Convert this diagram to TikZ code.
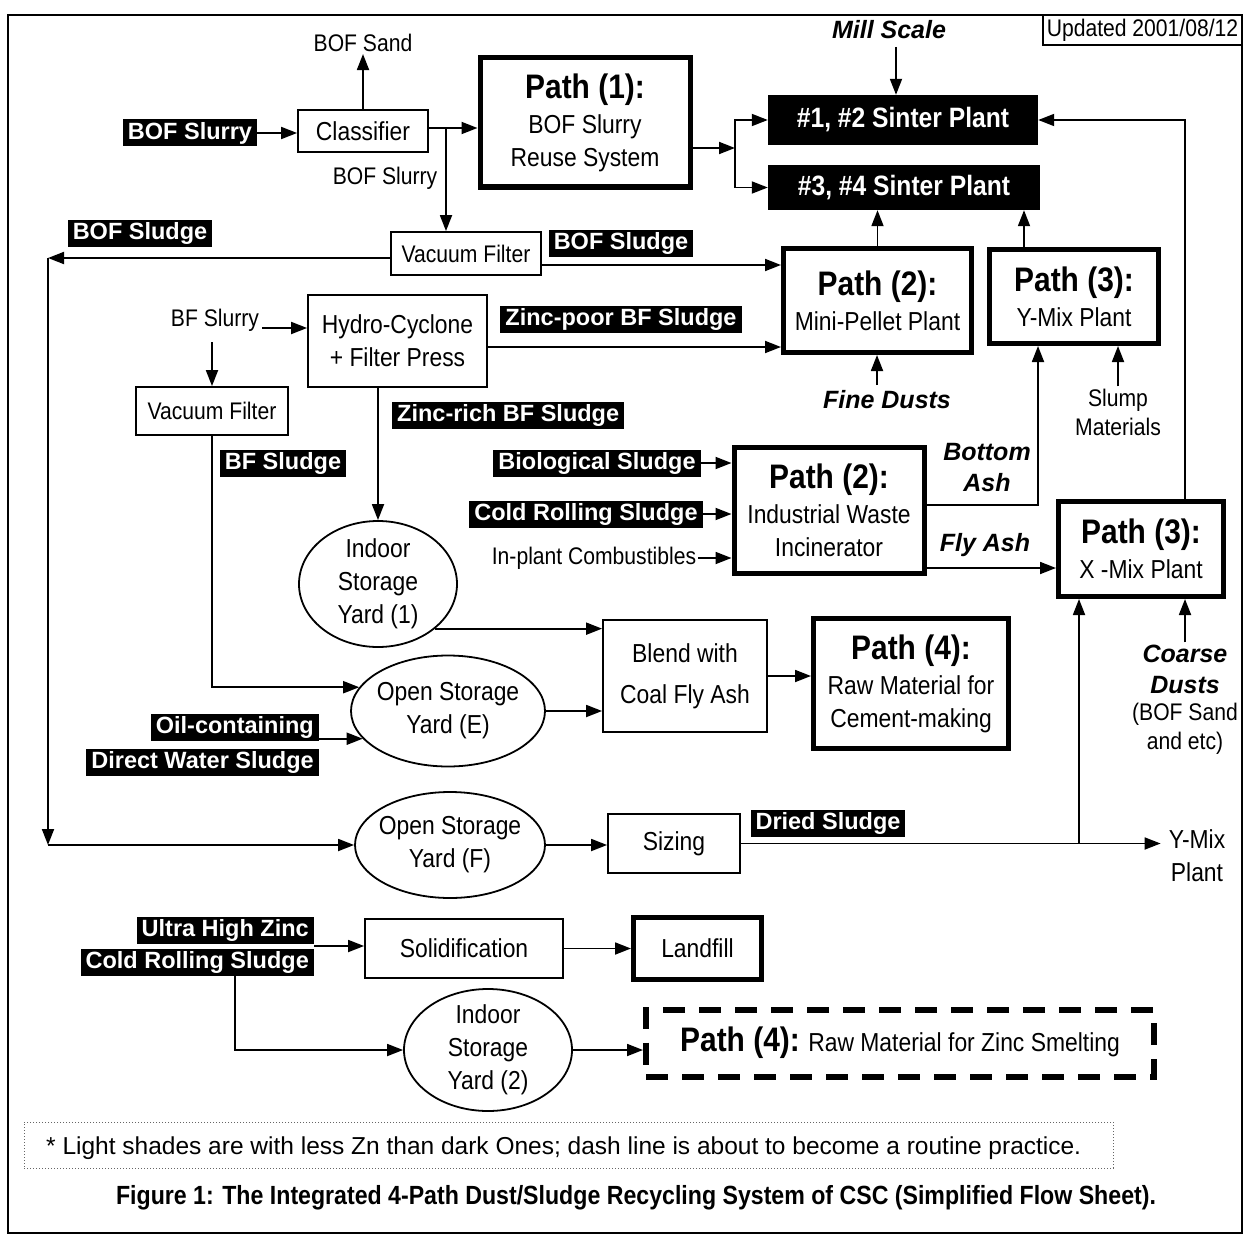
\documentclass[tikz,border=0pt]{standalone}
\usepackage{fontspec}
\setmainfont{Liberation Sans}[FakeStretch=0.88]
\newfontfamily\widefam{Liberation Sans}
\usetikzlibrary{arrows.meta,shapes.geometric}
\newcommand\fReg{\fontsize{26}{33}\selectfont}
\newcommand\fSm{\fontsize{24}{29}\selectfont}
\newcommand\fPath{\fontsize{34}{40}\selectfont\bfseries}
\newcommand\fSin{\fontsize{28}{32}\selectfont\bfseries}
\newcommand\fLab{\widefam\fontsize{23.5}{28}\selectfont\bfseries}
\newcommand\fBI{\widefam\fontsize{25}{31}\selectfont\bfseries\itshape}
\begin{document}
\begin{tikzpicture}[x=1pt,y=-1pt,
  every node/.style={inner sep=2pt},
  bx/.style={draw,line width=1.8pt,align=center,font=\fReg},
  pb/.style={draw,line width=5pt,align=center,font=\fReg},
  blk/.style={fill=black,text=white,font=\fLab,inner xsep=5pt,inner ysep=2pt,text height=18pt,text depth=5pt},
  el/.style={draw,ellipse,line width=1.8pt,inner sep=0pt},
  txt/.style={align=center,font=\fReg},
  arr/.style={line width=1.8pt,-{Triangle[length=16pt,width=12pt]}}]
\useasboundingbox (0,0) rectangle (1248,1236);
% frame
\draw[line width=2pt] (8,15) rectangle (1242,1233);
\node[bx,font=\fSm,minimum width=199pt,minimum height=30pt,inner sep=0pt] (upd) at (1142.5,30) {Updated 2001/08/12};
% top
\node[font=\fBI] (mill) at (889,30) {Mill Scale};
\node[fill=black,text=white,font=\fSin,minimum width=270pt,minimum height=50pt] (s12) at (903,120) {\#1, \#2 Sinter Plant};
\node[fill=black,text=white,font=\fSin,minimum width=272pt,minimum height=45pt] (s34) at (904,187.5) {\#3, \#4 Sinter Plant};
\node[pb,minimum width=210pt,minimum height=129pt] (p1) at (585,122.5) {{\fPath Path (1):}\\[2pt]BOF Slurry\\Reuse System};
\node[bx,minimum width=130pt,minimum height=42pt] (cls) at (363,131) {Classifier};
\node[font=\fSm] (bsand) at (363,43) {BOF Sand};
\node[blk] (bslur) at (190,133) {BOF Slurry};
\node[font=\fSm] (bslur2) at (385,178) {BOF Slurry};
\node[bx,font=\fSm,minimum width=150pt,minimum height=43pt] (vf1) at (466,253.5) {Vacuum Filter};
\node[blk] (bsl1) at (140,233) {BOF Sludge};
\node[blk] (bsl2) at (621,243) {BOF Sludge};
\node[pb,minimum width=188pt,minimum height=104pt] (p2a) at (877.5,300.5) {{\fPath Path (2):}\\[2pt]Mini-Pellet Plant};
\node[pb,minimum width=169pt,minimum height=94pt] (p3a) at (1074,296.5) {{\fPath Path (3):}\\[2pt]Y-Mix Plant};
\node[bx,minimum width=179pt,minimum height=92pt] (hc) at (397.5,341) {Hydro-Cyclone\\+ Filter Press};
\node[font=\fSm] (bfs) at (215,320) {BF Slurry};
\node[bx,font=\fSm,minimum width=152pt,minimum height=48pt] (vf2) at (212,411) {Vacuum Filter};
\node[blk] (zp) at (621,319) {Zinc-poor BF Sludge};
\node[blk,anchor=west] (zr) at (392,415) {Zinc-rich BF Sludge\hspace{22pt}};
\node[font=\fBI] (fd) at (887,400) {Fine Dusts};
\node[font=\fSm,align=center] (slump) at (1118,412) {Slump\\Materials};
\node[blk] (bfsl) at (283,463) {BF Sludge};
\node[blk] (bio) at (597,463) {Biological Sludge};
\node[blk] (cold) at (586,514) {Cold Rolling Sludge};
\node[font=\fSm] (inpl) at (594,558) {In-plant Combustibles};
\node[pb,minimum width=190pt,minimum height=126pt] (inc) at (829,510) {{\fPath Path (2):}\\[2pt]Industrial Waste\\Incinerator};
\node[font=\fBI,align=center] (bash) at (987,468) {Bottom\\Ash};
\node[font=\fBI] (fash) at (985,545) {Fly Ash};
\node[pb,minimum width=165pt,minimum height=95pt] (xmix) at (1141,549) {{\fPath Path (3):}\\[2pt]X -Mix Plant};
\node[font=\fBI,align=center] (coarse) at (1185,669) {Coarse\\Dusts};
\node[font=\fSm,align=center] (bofse) at (1185,728.5) {(BOF Sand\\and etc)};
% middle
\node[el,minimum width=158pt,minimum height=126pt] (isy1) at (378,584) {};
\node[txt] (isy1t) at (isy1) {Indoor\\Storage\\Yard (1)};
\node[bx,minimum width=164pt,minimum height=112pt] (blend) at (685,676) {Blend with\\[8pt]Coal Fly Ash};
\node[pb,minimum width=195pt,minimum height=130pt] (p4) at (911,683.5) {{\fPath Path (4):}\\[2pt]Raw Material for\\Cement-making};
\node[el,minimum width=194pt,minimum height=111pt] (osE) at (448,711) {};
\node[txt] (osEt) at (osE) {Open Storage\\Yard (E)};
\node[blk,anchor=east] (oil) at (319,727) {Oil-containing};
\node[blk,anchor=east] (dws) at (319,762) {Direct Water Sludge};
\node[el,minimum width=190pt,minimum height=106pt] (osF) at (450,845) {};
\node[txt] (osFt) at (osF) {Open Storage\\Yard (F)};
\node[bx,minimum width=132pt,minimum height=59pt] (siz) at (674,843.5) {Sizing};
\node[blk] (dried) at (828,823) {Dried Sludge};
\node[txt,inner xsep=8pt] (ymt) at (1197,856) {Y-Mix\\Plant};
% bottom
\node[blk,anchor=east] (uhz) at (314,930) {Ultra High Zinc};
\node[blk,anchor=east] (ucold) at (314,962) {Cold Rolling Sludge};
\node[bx,minimum width=198pt,minimum height=59pt] (solid) at (464,948.5) {Solidification};
\node[pb,minimum width=128pt,minimum height=62pt] (landf) at (697.5,948.5) {Landfill};
\node[el,minimum width=168pt,minimum height=122pt] (isy2) at (488,1050) {};
\node[txt] (isy2t) at (isy2) {Indoor\\Storage\\Yard (2)};
\node[draw,line width=6pt,dash pattern=on 22pt off 14pt,minimum width=508pt,minimum height=67pt,font=\fReg] (zs) at (900,1043) {{\fPath Path (4):} Raw Material for Zinc Smelting};
\node[draw=black!60,dotted,line width=1pt,minimum width=1089pt,minimum height=46pt] (fn) at (568.5,1145) {};
\node[font=\widefam\fontsize{24.5}{28}\selectfont,anchor=west] (fnt) at (44,1148) {* Light shades are with less Zn than dark Ones; dash line is about to become a routine practice.};
\node[font=\fontsize{26.3}{30}\selectfont\bfseries] (cap) at (636,1198) {Figure 1: The Integrated 4-Path Dust/Sludge Recycling System of CSC (Simplified Flow Sheet).};
% connectors
\draw[arr] (bslur.east) -- (cls.west |- bslur.east);
\draw[arr] (cls.north) -- (bsand.south);
\coordinate (j1) at (446,128);
\draw[arr] (cls.east |- j1) -- (p1.west |- j1);
\draw[arr] (j1) -- (vf1.north -| j1);
\coordinate (j2) at (735,148);
\draw[arr] (p1.east |- j2) -- (j2);
\draw[arr] (j2) |- (s12.west);
\draw[arr] (j2) |- (s34.west);
\coordinate (ms) at (896,47);
\draw[arr] (ms) -- (s12.north -| ms);
\coordinate (xr) at (1185,0);
\draw[arr] (xmix.north -| xr) |- (s12.east);
\draw[arr] (p2a.north) -- (s34.south -| p2a.north);
\coordinate (x1024) at (1024,0);
\draw[arr] (p3a.north -| x1024) -- (s34.south -| x1024);
\coordinate (cL1) at (48,258);
\coordinate (cL2) at (48,845);
\draw[arr] (vf1.west |- cL1) -- (cL1);
\draw[arr] (cL1) -- (cL2);
\draw[arr] (cL2) -- (osF.west |- cL2);
\coordinate (y265) at (0,265);
\draw[arr] (vf1.east |- y265) -- (p2a.west |- y265);
\coordinate (y347) at (0,347);
\draw[arr] (hc.east |- y347) -- (p2a.west |- y347);
\coordinate (bfe) at (262,328);
\draw[arr] (bfe) -- (hc.west |- bfe);
\coordinate (bfd) at (212,342);
\draw[arr] (bfd) -- (vf2.north);
\draw[arr] (vf2.south) |- (osE.165);
\draw[arr] (hc.south -| isy1.north) -- (isy1.north);
\draw[arr] (isy1.-38) -- (blend.west |- isy1.-38);
\draw[arr] (osE.east) -- (blend.west |- osE.east);
\draw[arr] (oil.east |- osE.198) -- (osE.198);
\draw[arr] (blend.east) -- (p4.west |- blend.east);
\draw[arr] (osF.east) -- (siz.west |- osF.east);
\draw[arr] (siz.east) -- (ymt.west |- siz.east);
\coordinate (j3) at (1079,843.5);
\draw[arr] (j3) -- (xmix.south -| j3);
\draw[arr] (coarse.north) -- (xmix.south -| coarse.north);
\draw[arr] (slump.north) -- (p3a.south -| slump.north);
\coordinate (fdx) at (877,385);
\draw[arr] (fdx) -- (p2a.south -| fdx);
\draw[arr] (bio.east) -- (inc.west |- bio.east);
\draw[arr] (cold.east) -- (inc.west |- cold.east);
\draw[arr] (inpl.east) -- (inc.west |- inpl.east);
\coordinate (ba) at (1038,505);
\draw[arr] (inc.east |- ba) -| (p3a.south -| ba);
\coordinate (fa) at (0,568);
\draw[arr] (inc.east |- fa) -- (xmix.west |- fa);
\coordinate (ua) at (0,946);
\draw[arr] (ucold.east |- ua) -- (solid.west |- ua);
\draw[arr] (solid.east) -- (landf.west |- solid.east);
\coordinate (uc) at (235,0);
\draw[arr] (ucold.south -| uc) |- (isy2.west);
\draw[arr] (isy2.east) -- (zs.west |- isy2.east);
\end{tikzpicture}
\end{document}
